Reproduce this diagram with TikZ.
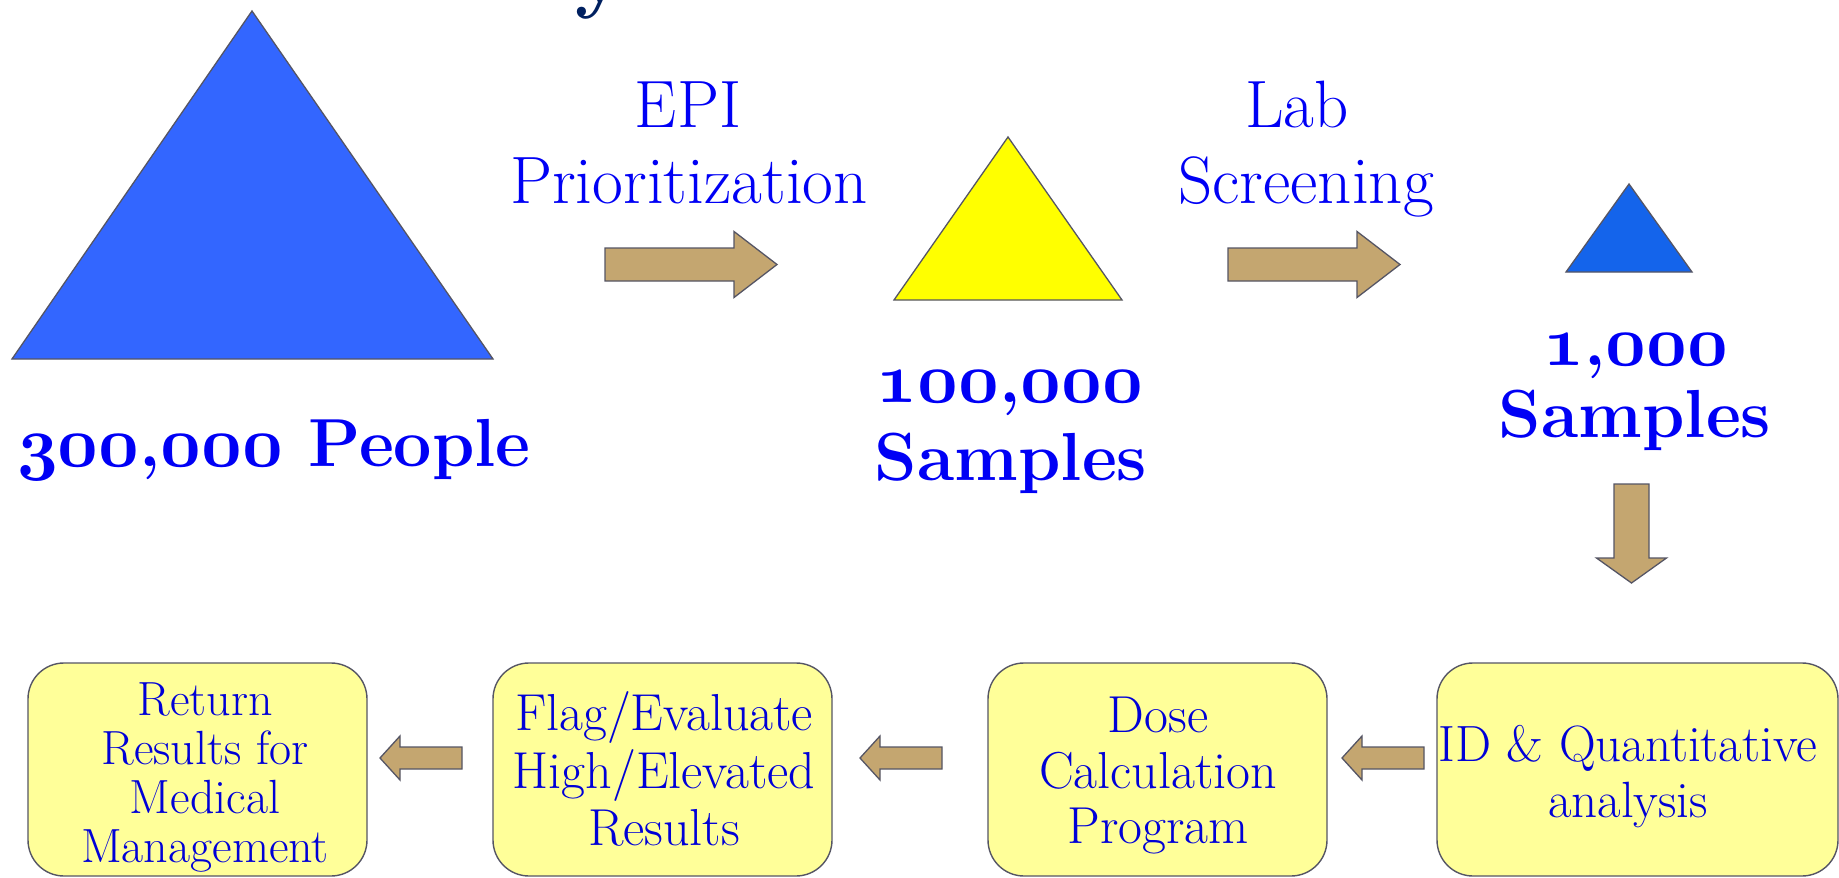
\documentclass[tikz,border=0pt]{standalone}
\usepackage{tikz}
\usepackage{graphicx}
\definecolor{triblue}{RGB}{51,102,255}
\definecolor{triblueb}{RGB}{20,100,235}
\definecolor{triyellow}{RGB}{255,255,0}
\definecolor{arrowtan}{RGB}{196,166,112}
\definecolor{boxyellow}{RGB}{255,255,153}
\definecolor{txtblue}{RGB}{0,0,245}
\definecolor{boxtxt}{RGB}{0,0,215}
\definecolor{titlenavy}{RGB}{0,32,96}
\definecolor{edgegray}{RGB}{85,85,100}
\newcommand\osdig[1]{\scalebox{7.1}{\fontencoding{OML}\fontfamily{cmm}\fontseries{b}\fontshape{it}\fontsize{10}{12}\selectfont #1}}
\begin{document}
\begin{tikzpicture}[x=1pt,y=-1pt,
  tri/.style={draw=edgegray, line width=1.3pt, line join=miter},
  blockarrow/.style={fill=arrowtan, draw=edgegray, line width=1.3pt, line join=miter},
  stepbox/.style={draw=edgegray, line width=1.4pt, fill=boxyellow, rounded corners=36pt,
                  minimum width=#1, minimum height=213pt, inner sep=0pt},
  lighttext/.style={text=txtblue, font=\fontsize{67}{76}\selectfont, anchor=base, inner sep=0pt},
  boldtext/.style={text=txtblue, font=\fontsize{68}{80}\selectfont\bfseries, anchor=base, inner sep=0pt},
  boxtext/.style={text=boxtxt, font=\fontsize{52}{57}\selectfont, anchor=base, inner sep=0pt},
  rarrow/.pic={\draw[blockarrow] (0,-16.5) -- (129,-16.5) -- (129,-33) -- (172,0) -- (129,33) -- (129,16.5) -- (0,16.5) -- cycle;},
  larrow/.pic={\draw[blockarrow] (0,0) -- (20,-22) -- (20,-11) -- (82,-11) -- (82,11) -- (20,11) -- (20,22) -- cycle;},
  darrow/.pic={\draw[blockarrow] (-17.5,0) -- (17.5,0) -- (17.5,74) -- (35,74) -- (0,99) -- (-35,74) -- (-17.5,74) -- cycle;}
]
\useasboundingbox (0,0) rectangle (1839,878);
\fill[white] (0,0) rectangle (1839,878);

% cut-off title
\node[font=\fontsize{84}{90}\selectfont\bfseries, text=titlenavy, anchor=base, inner sep=0pt] (title) at (600,2) {y};

% triangles
\draw[tri, fill=triblue] (252,11) -- (493,359) -- (12,359) -- cycle;
\draw[tri, fill=triyellow] (1008,137) -- (1122,300) -- (894,300) -- cycle;
\draw[tri, fill=triblueb] (1629,184) -- (1692,272) -- (1566,272) -- cycle;

% top labels
\node[lighttext] (epi1) at (688,127) {EPI};
\node[lighttext] (epi2) at (689,203) {Prioritization};
\node[lighttext] (lab1) at (1297,127) {Lab};
\node[lighttext] (lab2) at (1306,203) {Screening};

\node[boldtext] (n300) at (274,466) {\osdig{300},\osdig{000} People};
\node[boldtext] (n100a) at (1010,402) {\osdig{100},\osdig{000}};
\node[boldtext] (n100b) at (1011,480) {Samples};
\node[boldtext] (n1a) at (1636,365) {\osdig{1},\osdig{000}};
\node[boldtext] (n1b) at (1635,437) {Samples};

% big arrows
\pic at (605,264.5) {rarrow};
\pic at (1228,264.5) {rarrow};
\pic at (1631.5,484) {darrow};

% boxes
\node[stepbox=339pt] (b1) at (197.5,769.5) {};
\node[stepbox=339pt] (b2) at (662.5,769.5) {};
\node[stepbox=339pt] (b3) at (1157.5,769.5) {};
\node[stepbox=401pt] (b4) at (1637.5,769.5) {};

\node[boxtext, font=\fontsize{48}{49}\selectfont] (b1l1) at (205,715) {Return};
\node[boxtext, font=\fontsize{48}{49}\selectfont] (b1l2) at (205,764) {Results for};
\node[boxtext, font=\fontsize{48}{49}\selectfont] (b1l3) at (205,813) {Medical};
\node[boxtext, font=\fontsize{48}{49}\selectfont] (b1l4) at (205,862) {Management};

\node[boxtext] (b2l1) at (664,730) {Flag/Evaluate};
\node[boxtext] (b2l2) at (664,788) {High/Elevated};
\node[boxtext] (b2l3) at (664,845) {Results};

\node[boxtext] (b3l1) at (1158,732) {Dose};
\node[boxtext] (b3l2) at (1158,788) {Calculation};
\node[boxtext] (b3l3) at (1158,843) {Program};

\node[boxtext, font=\fontsize{51}{56}\selectfont] (b4l1) at (1628,761) {ID \& Quantitative};
\node[boxtext, font=\fontsize{51}{56}\selectfont] (b4l2) at (1628,817) {analysis};

% small left arrows
\pic at (380,758) {larrow};
\pic at (860,758) {larrow};
\pic at (1342,758) {larrow};
\end{tikzpicture}
\end{document}
